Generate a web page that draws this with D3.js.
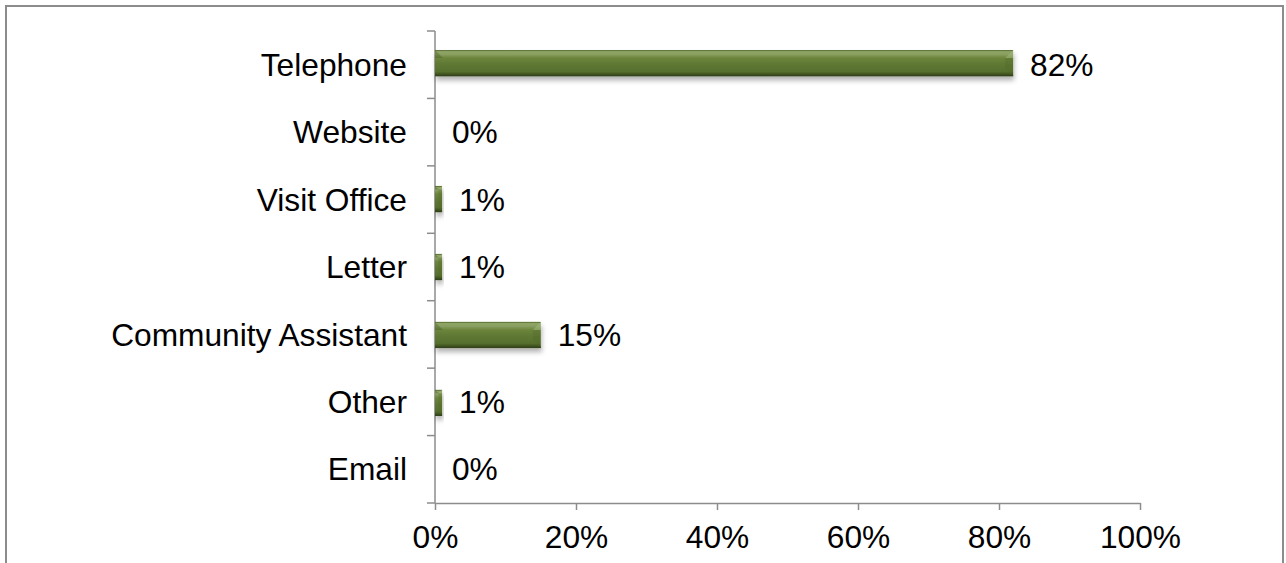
<!DOCTYPE html>
<html>
<head>
<meta charset="utf-8">
<script src="https://cdn.jsdelivr.net/npm/d3@7"></script>
<style>
  html, body { margin: 0; padding: 0; background: #fff; }
  svg { display: block; }
  text { font-family: "Liberation Sans", Arial, sans-serif; fill: #000; }
</style>
</head>
<body>
<div id="chart"></div>
<script>
// Contact method shares (percent)
const categories = ["Telephone", "Website", "Visit Office", "Letter", "Community Assistant", "Other", "Email"];
const values = [82, 0, 1, 1, 15, 1, 0];
const xTicks = [0, 20, 40, 60, 80, 100];

const W = 1286, H = 563;
const plot = { left: 435, right: 1140, top: 31, bottom: 503 };
const fontSize = 31.7;

const svg = d3.select("#chart").append("svg")
  .attr("width", W).attr("height", H);

const defs = svg.append("defs");

// Vertical shading of the bar body
const grad = defs.append("linearGradient")
  .attr("id", "barGrad").attr("x1", 0).attr("y1", 0).attr("x2", 0).attr("y2", 1);
[
  [0.00, "#4a5f24"], [0.06, "#8ea465"], [0.16, "#8aa061"], [0.30, "#6c853c"],
  [0.55, "#5f7833"], [0.82, "#56702e"], [0.90, "#455a22"], [1.00, "#3a4c1c"]
].forEach(([o, c]) => grad.append("stop").attr("offset", o).attr("stop-color", c));

// Soft shadow under each bar
const shadow = defs.append("filter").attr("id", "barShadow")
  .attr("x", "-10%").attr("y", "-30%").attr("width", "130%").attr("height", "190%");
shadow.append("feDropShadow")
  .attr("dx", 1).attr("dy", 4).attr("stdDeviation", 2.5)
  .attr("flood-color", "#000").attr("flood-opacity", 0.3);

// Outer frame
svg.append("rect")
  .attr("x", 6).attr("y", 6).attr("width", W - 9).attr("height", H + 20)
  .attr("fill", "none").attr("stroke", "#8c8c8c").attr("stroke-width", 2);

const x = d3.scaleLinear().domain([0, 100]).range([plot.left, plot.right]);

// Full-width bands for category tick marks, padded bands for the bars
const yBand = d3.scaleBand().domain(categories).range([plot.top, plot.bottom]).padding(0);
const y = d3.scaleBand().domain(categories).range([plot.top, plot.bottom])
  .paddingInner(0.615).paddingOuter(0.28);

// Bottom axis
const xAxis = d3.axisBottom(x)
  .tickValues(xTicks)
  .tickFormat(d => d + "%")
  .tickSizeInner(7).tickSizeOuter(0).tickPadding(15);

const gx = svg.append("g")
  .attr("transform", `translate(0,${plot.bottom})`)
  .call(xAxis);
gx.select(".domain").attr("stroke", "#8c8c8c").attr("stroke-width", 1.5);
gx.selectAll(".tick line").attr("stroke", "#8c8c8c").attr("stroke-width", 1.5);
gx.selectAll(".tick text")
  .style("font-family", "'Liberation Sans', Arial, sans-serif")
  .style("font-size", fontSize + "px").attr("fill", "#000");

// Left axis line with ticks between categories
const gy = svg.append("g");
gy.append("line")
  .attr("x1", plot.left).attr("x2", plot.left)
  .attr("y1", plot.top).attr("y2", plot.bottom)
  .attr("stroke", "#8c8c8c").attr("stroke-width", 1.5);
const boundaries = categories.map(c => yBand(c)).concat([plot.bottom]);
gy.selectAll("line.tick").data(boundaries).join("line")
  .attr("class", "tick")
  .attr("x1", plot.left - 8).attr("x2", plot.left)
  .attr("y1", d => d).attr("y2", d => d)
  .attr("stroke", "#8c8c8c").attr("stroke-width", 1.5);

// Category labels
gy.selectAll("text.cat").data(categories).join("text")
  .attr("class", "cat")
  .attr("x", plot.left - 28)
  .attr("y", d => yBand(d) + yBand.bandwidth() / 2)
  .attr("dy", "0.35em")
  .attr("text-anchor", "end")
  .style("font-size", fontSize + "px")
  .text(d => d);

const data = categories.map((c, i) => ({ c, v: values[i] }));

// Bars with bevelled ends
const bars = svg.append("g").selectAll("g.bar")
  .data(data.filter(d => d.v > 0)).join("g")
  .attr("class", "bar")
  .attr("filter", "url(#barShadow)");

bars.append("rect")
  .attr("x", x(0))
  .attr("y", d => y(d.c))
  .attr("width", d => x(d.v) - x(0))
  .attr("height", y.bandwidth())
  .attr("fill", "url(#barGrad)");

// Left cap: subtle darker wedge at the top-left corner
bars.append("path")
  .attr("d", d => {
    const x0 = x(0), w = x(d.v) - x0, t = y(d.c);
    const b = Math.min(8, w / 2);
    return `M${x0},${t}L${x0 + b},${t + b}L${x0},${t + b}Z`;
  })
  .attr("fill", "#3f5320").attr("fill-opacity", 0.35);

// Right cap: lighter top wedge, slightly darker end face
bars.append("path")
  .attr("d", d => {
    const x1 = x(d.v), w = x1 - x(0), t = y(d.c);
    const b = Math.min(8, w / 2);
    return `M${x1},${t}L${x1 - b},${t + b}L${x1},${t + b}Z`;
  })
  .attr("fill", "#a2b67e").attr("fill-opacity", 0.55);
bars.append("path")
  .attr("d", d => {
    const x1 = x(d.v), w = x1 - x(0), h = y.bandwidth(), t = y(d.c);
    const b = Math.min(8, w / 2);
    return `M${x1},${t + b}L${x1 - b},${t + b}L${x1 - b},${t + h - b}L${x1},${t + h}Z`;
  })
  .attr("fill", "#4e6627").attr("fill-opacity", 0.3);

// Bottom edge line
bars.append("rect")
  .attr("x", x(0))
  .attr("y", d => y(d.c) + y.bandwidth() - 1.5)
  .attr("width", d => x(d.v) - x(0))
  .attr("height", 1.5)
  .attr("fill", "#33451a");

// Value labels
svg.append("g").selectAll("text.val").data(data).join("text")
  .attr("class", "val")
  .attr("x", d => x(d.v) + 17)
  .attr("y", d => yBand(d.c) + yBand.bandwidth() / 2)
  .attr("dy", "0.35em")
  .style("font-size", fontSize + "px")
  .text(d => d.v + "%");
</script>
</body>
</html>
